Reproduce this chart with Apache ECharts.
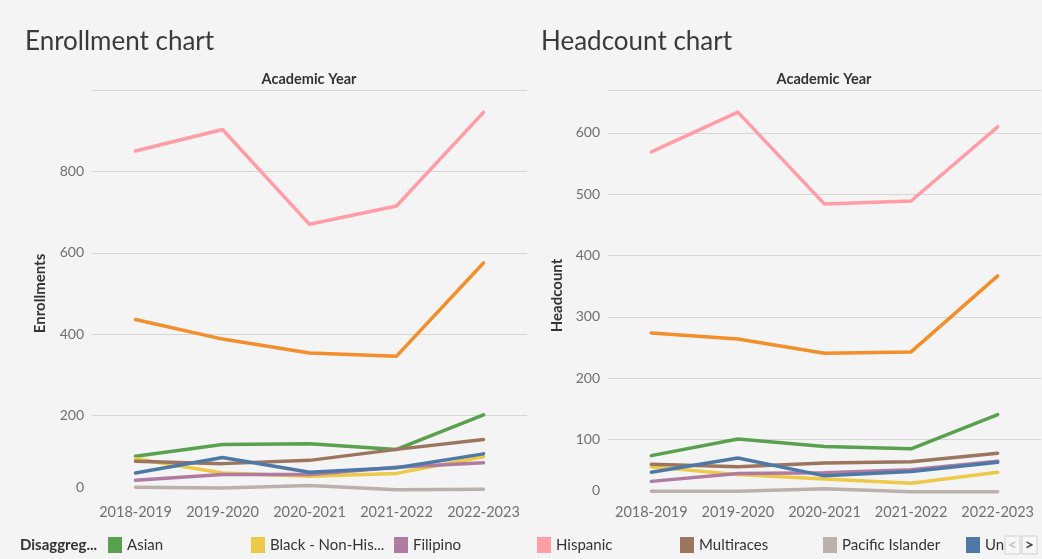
<!DOCTYPE html>
<html>
<head>
<meta charset="utf-8">
<script src="https://cdn.jsdelivr.net/npm/echarts@6/dist/echarts.min.js"></script>
<style>
html,body{margin:0;padding:0;background:#f4f4f4;}
#chart{width:1042px;height:559px;}
</style>
</head>
<body>
<div id="chart"></div>
<script>
const years = ['2018-2019','2019-2020','2020-2021','2021-2022','2022-2023'];
const groups = ['Asian','Black - Non-Hispanic','Filipino','Hispanic','Multiraces','Pacific Islander','Unknown','White'];
const groupColors = ['#59a14f','#edc948','#b07aa1','#ff9da7','#9c755f','#bab0ac','#4e79a7','#f28e2b'];

// Enrollments by group
const asianEnr    = [100,129,131,117,202];
const blackEnr    = [94,59,51,58,99];
const filipinoEnr = [41,55,55,73,84];
const hispanicEnr = [850,903,670,715,945];
const multiEnr    = [88,82,90,117,141];
const pacificEnr  = [24,22,28,18,19];
const unknownEnr  = [59,97,61,72,106];
const whiteEnr    = [436,388,354,346,575];

// Headcount by group
const asianHc    = [74,101,89,85,141];
const blackHc    = [56,43,36,29,47];
const filipinoHc = [32,45,46,51,65];
const hispanicHc = [569,634,484,489,610];
const multiHc    = [60,56,62,64,78];
const pacificHc  = [16,16,20,15,15];
const unknownHc  = [47,70,41,48,63];
const whiteHc    = [274,264,241,243,367];

const enrData = [asianEnr,blackEnr,filipinoEnr,hispanicEnr,multiEnr,pacificEnr,unknownEnr,whiteEnr];
const hcData  = [asianHc,blackHc,filipinoHc,hispanicHc,multiHc,pacificHc,unknownHc,whiteHc];

const FONT = 'Lato, "Open Sans", sans-serif';
const chart = echarts.init(document.getElementById('chart'));

function mkSeries(dataSets, idx){
  return dataSets.map((d,i)=>({
    name: groups[i], type:'line', xAxisIndex: idx, yAxisIndex: idx,
    data: d, symbol:'none', color: groupColors[i],
    lineStyle:{width:3.5, color: groupColors[i], cap:'round', join:'round'},
    emphasis:{disabled:true}
  }));
}

function yAx(idx, max, interval, name, gap, zeroPad, nLines){
  const colors = ['rgba(0,0,0,0)'];
  for(let i=1;i<nLines;i++) colors.push('#d6d6d6');
  return {
    type:'value', gridIndex: idx, min:0, max:max, interval:interval,
    name:name, nameLocation:'middle', nameGap:gap,
    nameTextStyle:{fontFamily:FONT, fontSize:15, fontWeight:'bold', color:'#333'},
    axisLine:{show:false}, axisTick:{show:false},
    axisLabel:{
      showMaxLabel:false, margin:8, color:'#707070', fontFamily:FONT, fontSize:14,
      formatter: v => v===0 ? '{z|0}' : String(v),
      rich:{z:{padding:[0,0,zeroPad,0], color:'#707070', fontFamily:FONT, fontSize:14}}
    },
    splitLine:{show:true, lineStyle:{color:colors, width:1}}
  };
}

function xAx(idx, margin){
  return {
    type:'category', gridIndex: idx, data: years, boundaryGap:true,
    axisLine:{show:false}, axisTick:{show:false},
    axisLabel:{interval:0, margin:margin, color:'#707070', fontFamily:FONT, fontSize:14.5}
  };
}

// legend: one slot per visible item, fixed spacing; the list is cut off at the right (scroller)
const visibleLegend = 7;
const legends = [];
for(let i=0;i<visibleLegend;i++){
  const last = (i === visibleLegend-1);
  legends.push({
    left: 108 + 143*i, top: 537, padding: 0,
    data: [groups[i]], icon:'rect', itemWidth:14, itemHeight:16, selectedMode:false,
    formatter: n => (n.length > 16 ? n.slice(0,15) + '...' : n),
    textStyle: last
      ? {fontFamily:FONT, fontSize:15, color:'#333', width:23, overflow:'truncate', ellipsis:''}
      : {fontFamily:FONT, fontSize:15, color:'#333'}
  });
}

const option = {
  backgroundColor:'#f4f4f4',
  animation:false,
  grid:[
    {left:92, right:515, top:90, bottom:62},
    {left:608, right:1, top:90, bottom:58}
  ],
  xAxis:[ xAx(0, 8), xAx(1, 4) ],
  yAxis:[
    yAx(0, 1000, 200, 'Enrollments', 44, 20, 6),
    yAx(1, 670, 100, 'Headcount', 43, 22, 8)
  ],
  legend: legends,
  graphic:[
    {type:'text', left:25, top:29, style:{text:'Enrollment chart', font:'26px '+FONT, fill:'#3a3a3a'}},
    {type:'text', left:541, top:29, style:{text:'Headcount chart', font:'26px '+FONT, fill:'#3a3a3a'}},
    {type:'text', x:309, y:79, style:{text:'Academic Year', font:'bold 14.5px '+FONT, fill:'#333', align:'center', verticalAlign:'middle'}},
    {type:'text', x:824, y:79, style:{text:'Academic Year', font:'bold 14.5px '+FONT, fill:'#333', align:'center', verticalAlign:'middle'}},
    {type:'text', x:20, y:545, style:{text:'Disaggreg...', font:'bold 15px '+FONT, fill:'#333', align:'left', verticalAlign:'middle'}},
    {type:'rect', shape:{x:1005, y:536, width:15, height:18}, style:{fill:'#f7f7f7', stroke:'#d0d0d0', lineWidth:1}},
    {type:'rect', shape:{x:1022, y:536, width:15, height:18}, style:{fill:'#f7f7f7', stroke:'#d0d0d0', lineWidth:1}},
    {type:'text', x:1012.5, y:545, style:{text:'<', font:'bold 16px '+FONT, fill:'#c4c4c4', align:'center', verticalAlign:'middle'}},
    {type:'text', x:1029.5, y:545, style:{text:'>', font:'bold 16px '+FONT, fill:'#444', align:'center', verticalAlign:'middle'}}
  ],
  series: mkSeries(enrData,0).concat(mkSeries(hcData,1))
};
chart.setOption(option);
</script>
</body>
</html>
